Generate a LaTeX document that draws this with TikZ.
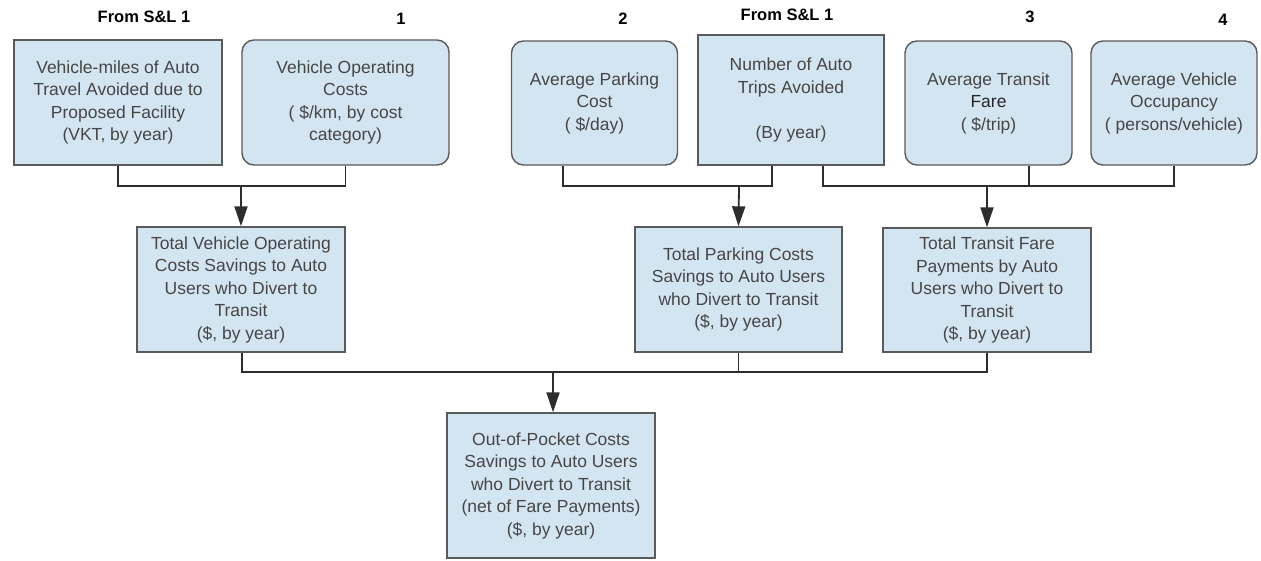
\documentclass[tikz,border=0pt]{standalone}
\usepackage{fontspec}
\setmainfont{Liberation Sans}
\usetikzlibrary{arrows.meta,calc}
\definecolor{boxfill}{RGB}{212,229,242}
\definecolor{boxline}{RGB}{90,90,90}
\definecolor{boxtext}{RGB}{70,70,70}
\definecolor{linkcol}{RGB}{45,45,45}
\tikzset{
  box/.style={draw=boxline, line width=1.4pt, fill=boxfill, align=center,
    text=boxtext, inner sep=0pt,
    font=\fontsize{17.5}{22.5}\selectfont},
  sharpbox/.style={box},
  roundbox/.style={box, rounded corners=12pt},
  tag/.style={font=\fontsize{16.5}{20}\selectfont\bfseries, text=black},
  link/.style={draw=linkcol, line width=1.8pt},
  feed/.style={link, -{Triangle[length=20pt,width=13pt]}},
}
\begin{document}
\begin{tikzpicture}[x=1pt,y=-1pt]
\useasboundingbox[fill=white] (0,0) rectangle (1261,560);

% top row of inputs
\node[sharpbox, minimum width=208pt, minimum height=125pt] (vkt) at (118,102.5)
  {Vehicle-miles of Auto\\Travel Avoided due to\\Proposed Facility\\(VKT, by year)};
\node[roundbox, minimum width=207pt, minimum height=125pt] (voc) at (345.5,102.5)
  {Vehicle Operating\\Costs\\( \$/km, by cost\\category)};
\node[roundbox, minimum width=166pt, minimum height=124pt] (park) at (594.5,103)
  {Average Parking\\Cost\\( \$/day)};
\node[sharpbox, minimum width=186pt, minimum height=130pt] (trips) at (791,100)
  {Number of Auto\\Trips Avoided\\\mbox{}\\(By year)};
\node[roundbox, minimum width=167pt, minimum height=124pt] (fare) at (988.5,103)
  {Average Transit\\{\color{black!85}Fare}\\( \$/trip)};
\node[roundbox, minimum width=166pt, minimum height=124pt] (occ) at (1174,103)
  {Average Vehicle\\Occupancy\\( persons/vehicle)};

% source labels
\node[tag] (t1) at (144,17) {From S\&L 1};
\node[tag] (t2) at (401,19) {1};
\node[tag] (t3) at (623,19) {2};
\node[tag] (t4) at (787,15) {From S\&L 1};
\node[tag] (t5) at (1030,17) {3};
\node[tag] (t6) at (1223,20) {4};

% intermediate results
\node[sharpbox, minimum width=208pt, minimum height=125pt] (vocsave) at (241,289.5)
  {Total Vehicle Operating\\Costs Savings to Auto\\Users who Divert to\\Transit\\(\$, by year)};
\node[sharpbox, minimum width=207pt, minimum height=125pt] (parksave) at (738.5,289.5)
  {Total Parking Costs\\Savings to Auto Users\\who Divert to Transit\\(\$, by year)};
\node[sharpbox, minimum width=208pt, minimum height=124pt] (farepay) at (987,290)
  {Total Transit Fare\\Payments by Auto\\Users who Divert to\\Transit\\(\$, by year)};

% final result
\node[sharpbox, minimum width=208pt, minimum height=145pt] (total) at (551,485.5)
  {Out-of-Pocket Costs\\Savings to Auto Users\\who Divert to Transit\\(net of Fare Payments)\\(\$, by year)};

% junction points
\coordinate (j1) at (241,186);
\coordinate (j2) at (739,186);
\coordinate (j3) at (987,186);
\coordinate (j4) at (553,372);

% vehicle operating cost branch
\draw[link] (vkt.south) |- (j1) -| (voc.south);
\draw[feed] (j1) -- (vocsave.north);

% parking cost branch
\draw[link] ([xshift=-31.5pt]park.south) |- (j2) -| ([xshift=-19pt]trips.south);
\draw[feed] (j2) -- (parksave.north);

% transit fare branch
\draw[link] ([xshift=32pt]trips.south) |- (j3) -| ([xshift=40.5pt]fare.south);
\draw[link] (j3) -| (occ.south);
\draw[feed] (j3) -- (farepay.north);

% combination into the final result
\draw[link] ([xshift=1pt]vocsave.south) |- (j4) -| (farepay.south);
\draw[link] (parksave.south) -- (parksave.south |- j4);
\draw[feed] (j4) -- ([xshift=2pt]total.north);
\end{tikzpicture}
\end{document}
